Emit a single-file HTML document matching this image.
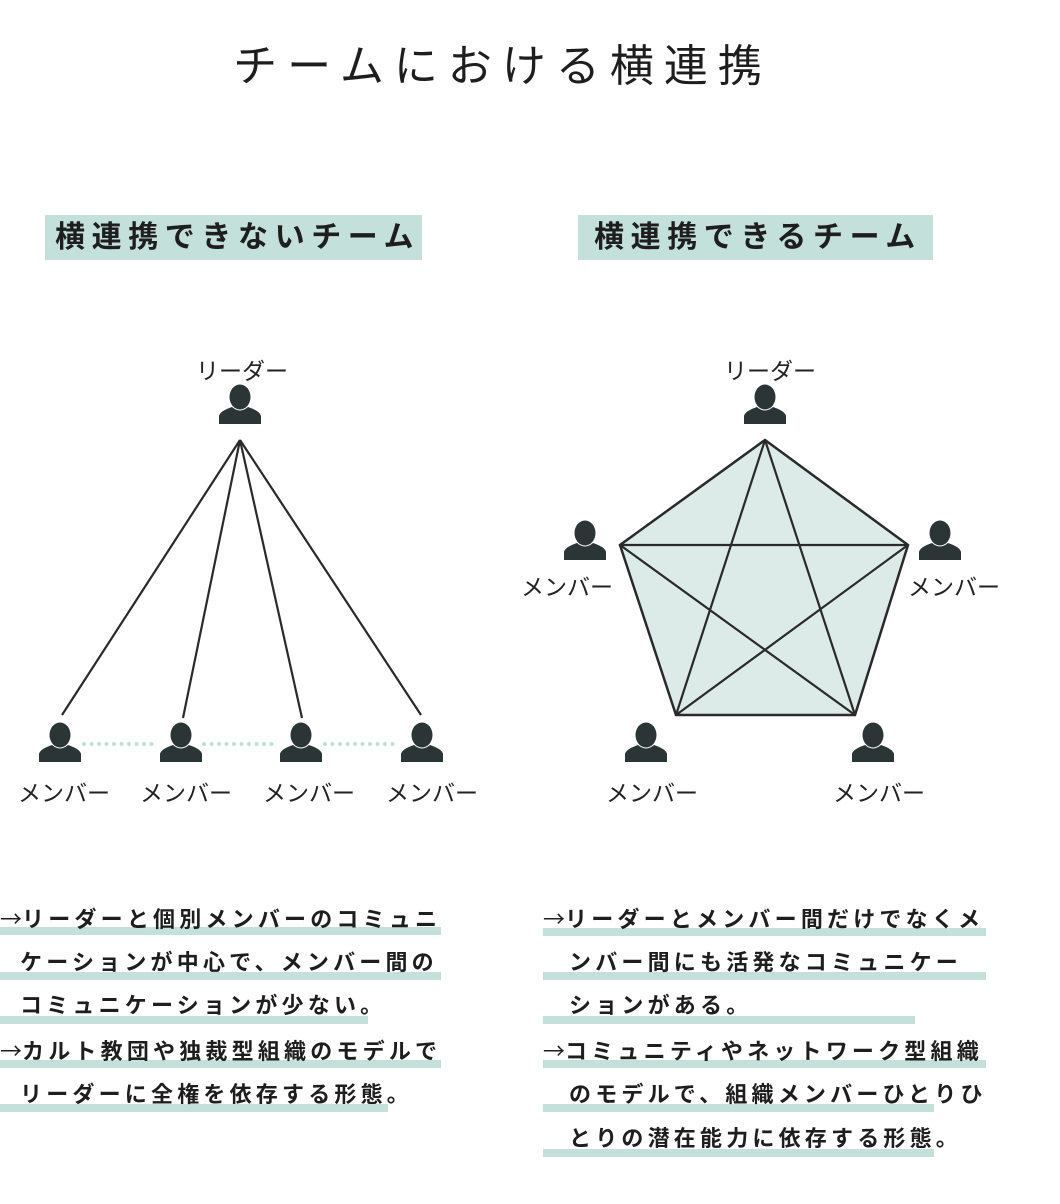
<!DOCTYPE html>
<html><head><meta charset="utf-8"><style>
body{margin:0;background:#fff;width:1060px;height:1204px;position:relative;overflow:hidden;font-family:"Liberation Sans","Noto Sans CJK JP",sans-serif;color:#1e1e1e}
.a{position:absolute;white-space:nowrap}
.t{font-size:44px;letter-spacing:10px;left:0;width:1005px;text-align:center;top:30px}
.h{background:#c4e0da;font-weight:bold;font-size:30px;letter-spacing:6.6px;height:45px;line-height:45px;top:215px}
.bar{position:absolute;height:8px;background:#c4e0da}
.ln{font-weight:bold;font-size:22px;letter-spacing:4.2px;line-height:30px}
.ar{font-family:"Noto Sans CJK JP",sans-serif;font-weight:normal;letter-spacing:0}
.lab{font-size:23px;color:#222}
</style></head><body>
<div class="a t">チームにおける横連携</div>
<div class="a h" style="left:45px;width:377px;padding-left:10px;box-sizing:border-box">横連携できないチーム</div>
<div class="a h" style="left:578px;width:355px;padding-left:16px;box-sizing:border-box">横連携できるチーム</div>

<svg class="a" style="left:0;top:0" width="1060" height="880">
<defs>
<g id="p"><ellipse cx="0" cy="-9" rx="10.5" ry="12.5" fill="#2c3536"/><path d="M-8,1 Q0,8 8,1 Q20,5 21,10 L21,18 L-21,18 L-21,10 Q-20,5 -8,1Z" fill="#2c3536"/></g>
</defs>
<g stroke="#2a2a2a" stroke-width="2.2" fill="none">
<line x1="240" y1="440" x2="62" y2="715"/><line x1="240" y1="440" x2="183" y2="718"/>
<line x1="240" y1="440" x2="302" y2="718"/><line x1="240" y1="440" x2="421" y2="715"/>
</g>
<g stroke="#bfe0d8" stroke-width="4" stroke-linecap="round" stroke-dasharray="0 7.5">
<line x1="84" y1="744" x2="156" y2="744"/><line x1="204" y1="744" x2="277" y2="744"/><line x1="325" y1="744" x2="398" y2="744"/>
</g>
<polygon points="765,440 908,545 855,715 676,715 620,545" fill="#dcebe8" stroke="#2a2a2a" stroke-width="2.5"/>
<g stroke="#2a2a2a" stroke-width="2.2">
<line x1="765" y1="440" x2="676" y2="715"/><line x1="765" y1="440" x2="855" y2="715"/>
<line x1="620" y1="545" x2="908" y2="545"/><line x1="620" y1="545" x2="855" y2="715"/>
<line x1="908" y1="545" x2="676" y2="715"/>
</g>
<use href="#p" x="240" y="406"/><use href="#p" x="60" y="744"/><use href="#p" x="181" y="744"/><use href="#p" x="301" y="744"/><use href="#p" x="422" y="744"/>
<use href="#p" x="765" y="406"/><use href="#p" x="585" y="542"/><use href="#p" x="940" y="542"/><use href="#p" x="646" y="744"/><use href="#p" x="873" y="744"/>
</svg>
<div class="a lab" style="left:196px;top:352px">リーダー</div>
<div class="a lab" style="left:724px;top:352px">リーダー</div>
<div class="a lab" style="left:18px;top:774px">メンバー</div>
<div class="a lab" style="left:140px;top:774px">メンバー</div>
<div class="a lab" style="left:263px;top:774px">メンバー</div>
<div class="a lab" style="left:386px;top:774px">メンバー</div>
<div class="a lab" style="left:521px;top:568px">メンバー</div>
<div class="a lab" style="left:908px;top:568px">メンバー</div>
<div class="a lab" style="left:606px;top:774px">メンバー</div>
<div class="a lab" style="left:833px;top:774px">メンバー</div>

<div class="bar" style="left:0;width:441px;top:927px"></div>
<div class="bar" style="left:0;width:441px;top:972px"></div>
<div class="bar" style="left:0;width:368px;top:1016px"></div>
<div class="bar" style="left:0;width:441px;top:1060px"></div>
<div class="bar" style="left:0;width:388px;top:1104px"></div>
<div class="a ln" style="left:0;top:903px"><span class="ar">→</span>リーダーと個別メンバーのコミュニ</div>
<div class="a ln" style="left:20px;top:948px">ケーションが中心で、メンバー間の</div>
<div class="a ln" style="left:20px;top:991px">コミュニケーションが少ない。</div>
<div class="a ln" style="left:0;top:1035px"><span class="ar">→</span>カルト教団や独裁型組織のモデルで</div>
<div class="a ln" style="left:20px;top:1080px">リーダーに全権を依存する形態。</div>

<div class="bar" style="left:543px;width:443px;top:928px"></div>
<div class="bar" style="left:543px;width:443px;top:972px"></div>
<div class="bar" style="left:543px;width:372px;top:1016px"></div>
<div class="bar" style="left:543px;width:443px;top:1060px"></div>
<div class="bar" style="left:543px;width:391px;top:1104px"></div>
<div class="bar" style="left:543px;width:391px;top:1149px"></div>
<div class="a ln" style="left:543px;top:903px"><span class="ar">→</span>リーダーとメンバー間だけでなくメ</div>
<div class="a ln" style="left:569px;top:948px">ンバー間にも活発なコミュニケー</div>
<div class="a ln" style="left:569px;top:991px">ションがある。</div>
<div class="a ln" style="left:543px;top:1035px"><span class="ar">→</span>コミュニティやネットワーク型組織</div>
<div class="a ln" style="left:569px;top:1080px">のモデルで、組織メンバーひとりひ</div>
<div class="a ln" style="left:569px;top:1124px">とりの潜在能力に依存する形態。</div>
</body></html>
